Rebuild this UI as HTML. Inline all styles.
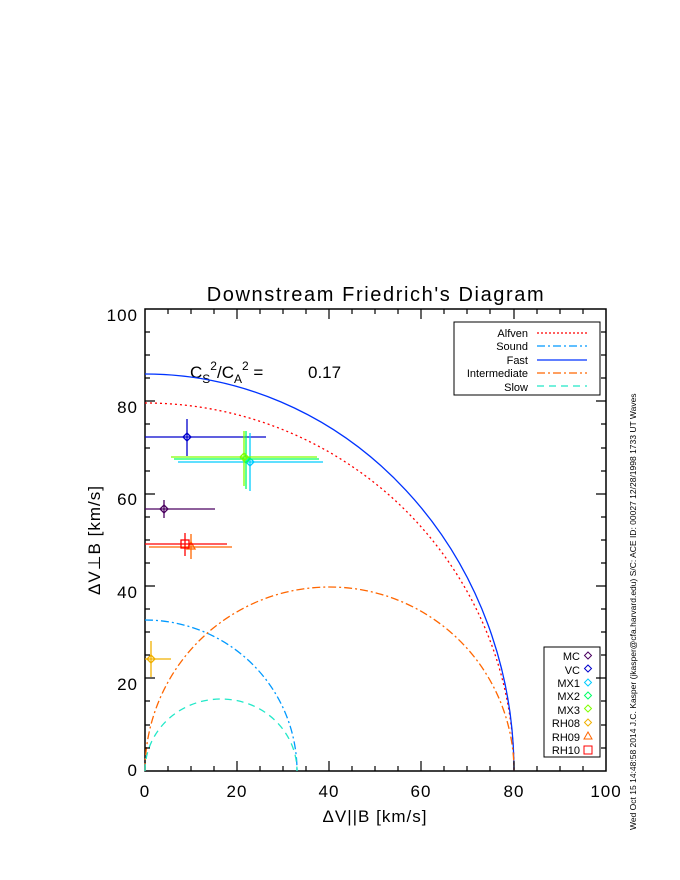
<!DOCTYPE html>
<html><head><style>body{margin:0;background:#fff}svg{display:block}text{font-family:"Liberation Sans",sans-serif}</style></head><body>
<svg width="680" height="880" xmlns="http://www.w3.org/2000/svg">
<rect width="680" height="880" fill="#fff"/>
<g stroke="#000" stroke-width="1.5" fill="none">
<rect x="145" y="309" width="461" height="462"/>
</g>
<text x="376" y="301" font-size="20" text-anchor="middle" letter-spacing="1.6" font-weight="300">Downstream Friedrich's Diagram</text>
<g font-size="17" text-anchor="middle" letter-spacing="1">
<text x="145" y="797">0</text><text x="237" y="797">20</text><text x="329" y="797">40</text><text x="421" y="797">60</text><text x="514" y="797">80</text><text x="606" y="797">100</text>
</g>
<g font-size="17" text-anchor="end" letter-spacing="1">
<text x="138" y="321">100</text><text x="138" y="413">80</text><text x="138" y="505">60</text><text x="138" y="598">40</text><text x="138" y="690">20</text><text x="138" y="776">0</text>
</g>
<text x="375" y="822" font-size="17" text-anchor="middle" letter-spacing="1">ΔV||B [km/s]</text>
<text transform="translate(100,540) rotate(-90)" font-size="17" text-anchor="middle" letter-spacing="1">ΔV⊥B [km/s]</text>
<text x="190" y="378" font-size="17">C<tspan font-size="12" dy="5">S</tspan><tspan font-size="12" dy="-13">2</tspan><tspan dy="8">/C</tspan><tspan font-size="12" dy="5">A</tspan><tspan font-size="12" dy="-13">2</tspan><tspan dy="8"> =</tspan></text>
<text x="308" y="378" font-size="17">0.17</text>
<text transform="translate(636,830) rotate(-90)" font-size="8.5">Wed Oct 15 14:48:58 2014  J.C. Kasper (jkasper@cfa.harvard.edu)  S/C: ACE ID: 00027 12/28/1998  1733 UT Waves</text>
<g fill="none" stroke-width="1.3">
<path d="M145,403 A369,368 0 0 1 514,771" stroke="#ff0000" stroke-dasharray="2,3"/>
<path d="M145,374 A369,397 0 0 1 514,771" stroke="#0033ff"/>
<path d="M145,620 A152,151 0 0 1 297,771" stroke="#0099ff" stroke-dasharray="8,3,2,3"/>
<path d="M145,771 A184.5,184 0 0 1 514,771" stroke="#ff6600" stroke-dasharray="8,3,2,3"/>
<path d="M145,771 A76,72 0 0 1 297,771" stroke="#22e8c8" stroke-dasharray="7,5"/>
</g>
<g fill="none" stroke-width="1.3">
<g stroke="#4b0060"><line x1="145" y1="509" x2="215" y2="509"/><line x1="164" y1="500" x2="164" y2="518"/><path d="M164,505 l4,4 -4,4 -4,-4z"/></g>
<g stroke="#0000cc"><line x1="145" y1="437" x2="266" y2="437"/><line x1="187" y1="419" x2="187" y2="456"/><path d="M187,433 l4,4 -4,4 -4,-4z"/></g>
<g stroke="#00ccff"><line x1="178" y1="462" x2="323" y2="462"/><line x1="250" y1="433" x2="250" y2="491"/><path d="M250,458 l4,4 -4,4 -4,-4z"/></g>
<g stroke="#00ff66"><line x1="174" y1="459" x2="319" y2="459"/><line x1="246" y1="431" x2="246" y2="489"/><path d="M246,455 l4,4 -4,4 -4,-4z"/></g>
<g stroke="#80ff00"><line x1="171" y1="457" x2="317" y2="457"/><line x1="244" y1="431" x2="244" y2="486"/><path d="M244,453 l4,4 -4,4 -4,-4z"/></g>
<g stroke="#ff6600"><line x1="149" y1="547" x2="232" y2="547"/><line x1="191" y1="534" x2="191" y2="559"/><path d="M191,542 l4,7 -8,0z"/></g>
<g stroke="#ff0000"><line x1="145" y1="544" x2="227" y2="544"/><line x1="185" y1="533" x2="185" y2="556"/><rect x="181" y="540" width="8" height="8"/></g>
<g stroke="#f0b000"><line x1="145" y1="659" x2="171" y2="659"/><line x1="151" y1="641" x2="151" y2="677"/><path d="M151,655 l4,4 -4,4 -4,-4z"/></g>
</g>
<rect x="454" y="322" width="146" height="73" fill="#fff" stroke="#000" stroke-width="1"/>
<g font-size="11" text-anchor="end">
<text x="528" y="337">Alfven</text><text x="528" y="350">Sound</text><text x="528" y="364">Fast</text><text x="528" y="377">Intermediate</text><text x="528" y="391">Slow</text>
</g>
<g stroke-width="1.3" fill="none">
<line x1="537" y1="333" x2="587" y2="333" stroke="#ff0000" stroke-dasharray="2,2"/>
<line x1="537" y1="346" x2="587" y2="346" stroke="#0099ff" stroke-dasharray="8,3,2,3"/>
<line x1="537" y1="360" x2="587" y2="360" stroke="#0033ff"/>
<line x1="537" y1="373" x2="587" y2="373" stroke="#ff6600" stroke-dasharray="8,3,2,3"/>
<line x1="537" y1="386" x2="587" y2="386" stroke="#22e8c8" stroke-dasharray="7,5"/>
</g>
<rect x="544" y="647" width="56" height="110" fill="#fff" stroke="#000" stroke-width="1"/>
<g font-size="11" text-anchor="end">
<text x="580" y="660">MC</text><text x="580" y="674">VC</text><text x="580" y="687">MX1</text><text x="580" y="700">MX2</text><text x="580" y="714">MX3</text><text x="580" y="727">RH08</text><text x="580" y="741">RH09</text><text x="580" y="754">RH10</text>
</g>
<g fill="none" stroke-width="1">
<path d="M588,652 l3.5,3.5 -3.5,3.5 -3.5,-3.5z" stroke="#4b0060"/>
<path d="M588,665 l3.5,3.5 -3.5,3.5 -3.5,-3.5z" stroke="#0000cc"/>
<path d="M588,679 l3.5,3.5 -3.5,3.5 -3.5,-3.5z" stroke="#00ccff"/>
<path d="M588,692 l3.5,3.5 -3.5,3.5 -3.5,-3.5z" stroke="#00ff66"/>
<path d="M588,705 l3.5,3.5 -3.5,3.5 -3.5,-3.5z" stroke="#80ff00"/>
<path d="M588,719 l3.5,3.5 -3.5,3.5 -3.5,-3.5z" stroke="#f0b000"/>
<path d="M588,732 l4,7 -8,0z" stroke="#ff6600"/>
<rect x="584" y="746" width="8" height="8" stroke="#ff0000"/>
</g>
<g stroke="#000" stroke-width="1.2">
<path d="M168,771v-5M191,771v-5M214,771v-5M237,771v-10M260,771v-5M283,771v-5M306,771v-5M329,771v-10M352,771v-5M375,771v-5M398,771v-5M421,771v-10M444,771v-5M467,771v-5M490,771v-5M514,771v-10M537,771v-5M560,771v-5M583,771v-5"/>
<path d="M168,309v5M191,309v5M214,309v5M237,309v10M260,309v5M283,309v5M306,309v5M329,309v10M352,309v5M375,309v5M398,309v5M421,309v10M444,309v5M467,309v5M490,309v5M514,309v10M537,309v5M560,309v5M583,309v5"/>
<path d="M145,332h5M145,355h5M145,378h5M145,401h10M145,424h5M145,448h5M145,471h5M145,494h10M145,517h5M145,540h5M145,563h5M145,586h10M145,609h5M145,632h5M145,655h5M145,678h10M145,701h5M145,725h5M145,748h5"/>
<path d="M606,332h-5M606,355h-5M606,378h-5M606,401h-10M606,424h-5M606,448h-5M606,471h-5M606,494h-10M606,517h-5M606,540h-5M606,563h-5M606,586h-10M606,609h-5M606,632h-5M606,655h-5M606,678h-10M606,701h-5M606,725h-5M606,748h-5"/>
</g>
</svg>
</body></html>
